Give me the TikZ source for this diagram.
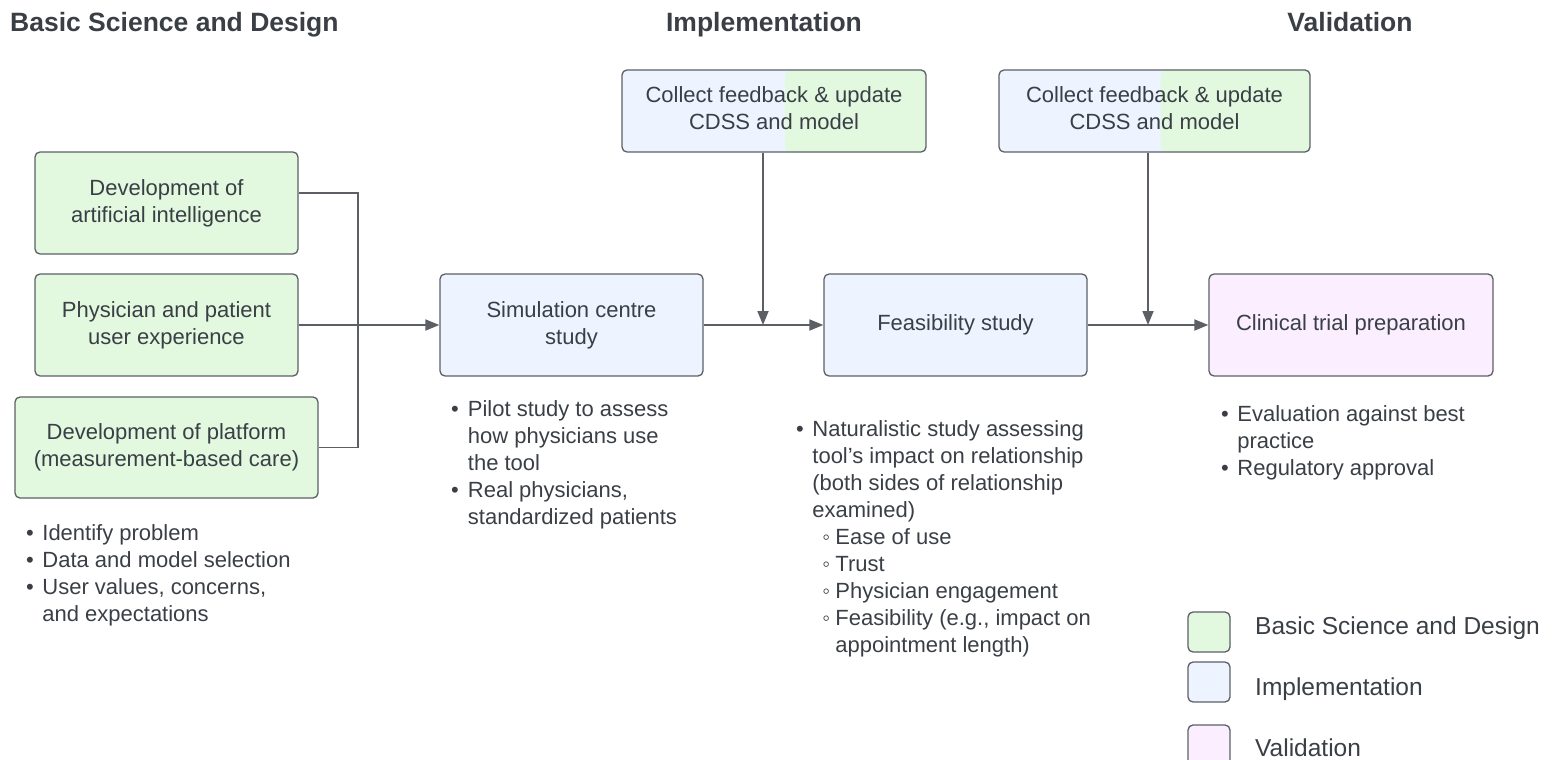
\documentclass[tikz,border=0pt]{standalone}
\usepackage{fontspec}
\setmainfont{Liberation Sans}
\usetikzlibrary{arrows.meta}
\definecolor{bsgreen}{HTML}{E2F9E0}
\definecolor{imblue}{HTML}{EDF4FF}
\definecolor{vapink}{HTML}{FAEEFF}
\definecolor{edgegray}{HTML}{5C6066}
\definecolor{inkgray}{HTML}{3A3F46}
\newcommand{\subbul}{\makebox[23pt][l]{\hspace{10pt}◦}}
\newcommand{\liftlines}[1]{\raisebox{4.5pt}{\begin{tabular}{@{}c@{}}#1\end{tabular}}}
\tikzset{
	stage/.style={draw=edgegray, line width=1.3pt, rounded corners=5pt, align=center, inner sep=0pt, text=inkgray, font=\fontsize{22}{27}\selectfont},
	notes/.style={anchor=base west, inner sep=0pt, text=inkgray, font=\fontsize{22}{27}\selectfont},
	link/.style={draw=edgegray, line width=1.8pt},
	flow/.style={link, -{Triangle[length=14pt,width=11pt]}},
	heading/.style={anchor=base, text=inkgray, font=\fontsize{26.5}{30}\selectfont\bfseries, inner sep=0pt},
	splitfill/.style={path picture={\fill[bsgreen] ([xshift=#1]path picture bounding box.south) rectangle (path picture bounding box.north east);}}
}
\begin{document}
\begin{tikzpicture}[x=1pt, y=-1pt]
		\useasboundingbox (0,0) rectangle (1556,760);

		\node[heading, anchor=base west] (hbsd) at (10,31.5) {Basic Science and Design};
		\node[heading] (himp) at (764,31.5) {Implementation};
		\node[heading] (hval) at (1350,31.5) {Validation};

			\node[stage, fill=bsgreen, minimum width=263pt, minimum height=102pt] (ai) at (166.5,203) {Development of\\artificial intelligence};
			\node[stage, fill=bsgreen, minimum width=263pt, minimum height=102pt] (ux) at (166.5,325) {Physician and patient\\user experience};
			\node[stage, fill=bsgreen, minimum width=303pt, minimum height=101pt] (platform) at (166.5,447.5) {Development of platform\\(measurement-based care)};

			\node[stage, fill=imblue, minimum width=263pt, minimum height=102pt] (sim) at (571.5,325) {Simulation centre\\study};
			\node[stage, fill=imblue, minimum width=263pt, minimum height=102pt] (feas) at (955.5,325) {Feasibility study};
			\node[stage, fill=vapink, minimum width=284pt, minimum height=102pt] (clinical) at (1351,325) {Clinical trial preparation};

			\node[stage, fill=imblue, splitfill=11pt, minimum width=304pt, minimum height=82pt] (fb1) at (774,111) {\liftlines{Collect feedback \& update\\CDSS and model}};
			\node[stage, fill=imblue, splitfill=6pt, minimum width=311pt, minimum height=82pt] (fb2) at (1154.5,111) {\liftlines{Collect feedback \& update\\CDSS and model}};

		\coordinate (join) at (358,325);
		\coordinate (fbin1) at (763,325);
		\coordinate (fbin2) at (1148,325);

			\draw[link] ([yshift=10pt]ai.east) -| (join) |- (platform.east);
			\draw[flow] (ux.east) -- (sim.west);
			\draw[flow] (sim.east) -- (feas.west);
			\draw[flow] (feas.east) -- (clinical.west);
			\draw[flow] ([xshift=-11pt]fb1.south) -- (fbin1);
			\draw[flow] ([xshift=-6.5pt]fb2.south) -- (fbin2);

		\node[notes] (platformnotes) at (26,540) {\begin{tabular}[t]{@{}l@{\hspace{8.5pt}}l@{}}
			\textbullet & Identify problem\\
			\textbullet & Data and model selection\\
			\textbullet & User values, concerns,\\
			& and expectations
		\end{tabular}};
		\node[notes] (simnotes) at (451,416) {\begin{tabular}[t]{@{}l@{\hspace{9pt}}l@{}}
			\textbullet & Pilot study to assess\\
			& how physicians use\\
			& the tool\\
			\textbullet & Real physicians,\\
			& standardized patients
		\end{tabular}};
		\node[notes] (feasnotes) at (796,436) {\begin{tabular}[t]{@{}l@{\hspace{8.5pt}}l@{}}
			\textbullet & Naturalistic study assessing\\
			& tool's impact on relationship\\
			& (both sides of relationship\\
			& examined)\\
			& \subbul Ease of use\\
			& \subbul Trust\\
			& \subbul Physician engagement\\
			& \subbul Feasibility (e.g., impact on\\
			& \hspace{23pt}appointment length)
		\end{tabular}};
		\node[notes] (clinicalnotes) at (1221,421) {\begin{tabular}[t]{@{}l@{\hspace{8.5pt}}l@{}}
			\textbullet & Evaluation against best\\
			& practice\\
			\textbullet & Regulatory approval
		\end{tabular}};

			\node[stage, fill=bsgreen, minimum width=42pt, minimum height=40pt] (keybsd) at (1209,632) {};
			\node[stage, fill=imblue, minimum width=42pt, minimum height=40pt] (keyimp) at (1209,682) {};
			\node[stage, fill=vapink, minimum width=42pt, minimum height=40pt] (keyval) at (1209,745) {};
			\node[notes, anchor=west, font=\fontsize{24.5}{28}\selectfont] (keybsdtext) at (1255,628) {Basic Science and Design};
			\node[notes, anchor=west, font=\fontsize{24.5}{28}\selectfont] (keyimptext) at (1255,689) {Implementation};
			\node[notes, anchor=west, font=\fontsize{24.5}{28}\selectfont] (keyvaltext) at (1255,748) {Validation};
\end{tikzpicture}
\end{document}
